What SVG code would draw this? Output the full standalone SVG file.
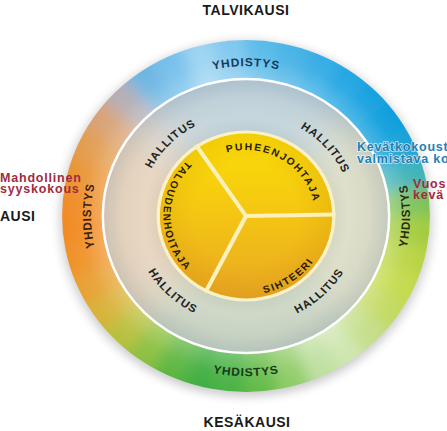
<svg xmlns="http://www.w3.org/2000/svg" width="447" height="431" viewBox="0 0 447 431">
<defs>
<style>
.lbl{font-family:"Liberation Sans",Arial,sans-serif;font-weight:700;}
.ring{font-size:11.5px;letter-spacing:0.8px;}
.hal{font-size:11px;letter-spacing:1px;fill:#1e2224;}
.role{font-size:10px;letter-spacing:1.6px;fill:#2a1e00;}
.season{font-size:14px;letter-spacing:0.5px;fill:#1a1a1a;}
.nred{font-size:12.5px;letter-spacing:0.8px;fill:#a32a40;}
.nblue{font-size:12.5px;letter-spacing:0.8px;fill:#1f80b4;stroke:#ffffff;stroke-width:1.6px;stroke-opacity:.7;paint-order:stroke;}
</style>
<filter id="blurC" x="-20%" y="-20%" width="140%" height="140%"><feGaussianBlur stdDeviation="7"/></filter>
<filter id="blurT" x="-30%" y="-30%" width="160%" height="160%"><feGaussianBlur stdDeviation="22"/></filter>
<filter id="shadow" x="-20%" y="-20%" width="140%" height="140%"><feGaussianBlur stdDeviation="5"/></filter>
<clipPath id="cOuter"><path clip-rule="evenodd" d="M-176 0A176 176 0 1 0 176 0A176 176 0 1 0 -176 0ZM-137 0A137 137 0 1 0 137 0A137 137 0 1 0 -137 0Z"/></clipPath>
<clipPath id="cMid"><path clip-rule="evenodd" d="M-137 0A137 137 0 1 0 137 0A137 137 0 1 0 -137 0ZM-85 0A85 85 0 1 0 85 0A85 85 0 1 0 -85 0Z"/></clipPath>
<radialGradient id="gOuterHi" gradientUnits="userSpaceOnUse" cx="0" cy="0" r="176">
<stop offset="0.77" stop-color="#fff" stop-opacity="0.28"/><stop offset="0.9" stop-color="#fff" stop-opacity="0.06"/><stop offset="1" stop-color="#fff" stop-opacity="0"/>
</radialGradient>
<radialGradient id="gMid" gradientUnits="userSpaceOnUse" cx="0" cy="0" r="137">
<stop offset="0.62" stop-color="#d6d8ce"/><stop offset="0.72" stop-color="#e8e7de"/><stop offset="0.86" stop-color="#dcddd6"/><stop offset="1" stop-color="#b3bcc0"/>
</radialGradient>
<linearGradient id="gYel" gradientUnits="userSpaceOnUse" x1="0" y1="-84" x2="0" y2="84">
<stop offset="0" stop-color="#fbe006"/><stop offset="0.5" stop-color="#f4c513"/><stop offset="1" stop-color="#e8a724"/>
</linearGradient>
<radialGradient id="gYelEdge" gradientUnits="userSpaceOnUse" cx="0" cy="0" r="84">
<stop offset="0.6" stop-color="#c07000" stop-opacity="0"/><stop offset="1" stop-color="#c07000" stop-opacity="0.16"/>
</radialGradient>
<path id="pYt" d="M-147.7 -26A150 150 0 0 1 147.7 -26"/>
<path id="pYb" d="M-157.6 27.8A160 160 0 0 0 157.6 27.8"/>
<path id="pYl" d="M-25.7 145.8A148 148 0 0 1 -25.7 -145.8"/>
<path id="pYr" d="M27.3 154.6A157 157 0 0 0 27.3 -154.6"/>
<path id="pH1" d="M-83.6 58.5A102 102 0 0 1 58.5 -83.6"/>
<path id="pH2" d="M-54.1 -86.5A102 102 0 0 1 80.4 62.8"/>
<path id="pH3" d="M-91.4 -59.4A109 109 0 0 0 65.6 87"/>
<path id="pH4" d="M-65.6 87A109 109 0 0 0 91.4 -59.4"/>
<path id="pPj" d="M-49.8 -43.3A66 66 0 0 1 61.6 23.7"/>
<path id="pTh" d="M-13.7 -77.8A79 79 0 0 0 -13.7 77.8"/>
<path id="pSh" d="M-56.8 54.9A79 79 0 0 0 72.2 -32.1"/>
</defs>

<g transform="translate(246 216) scale(1.045 1)">
<ellipse cx="0" cy="3" rx="178" ry="178" fill="#000" opacity=".2" filter="url(#shadow)"/>

<g id="ring-yhdistys">
<g clip-path="url(#cOuter)">
<g filter="url(#blurC)">
<polygon points="0,0 0,-190 33,-187.1" fill="#58bbe9"/>
<polygon points="0,0 33,-187.1 65,-178.5" fill="#46b3e6"/>
<polygon points="0,0 65,-178.5 95,-164.5" fill="#34ace5"/>
<polygon points="0,0 95,-164.5 122.1,-145.5" fill="#22a6e3"/>
<polygon points="0,0 122.1,-145.5 145.5,-122.1" fill="#12a0e0"/>
<polygon points="0,0 145.5,-122.1 164.5,-95" fill="#0c9edd"/>
<polygon points="0,0 164.5,-95 178.5,-65" fill="#14a2d6"/>
<polygon points="0,0 178.5,-65 187.1,-33" fill="#3cb2b8"/>
<polygon points="0,0 187.1,-33 190,0" fill="#7cc25c"/>
<polygon points="0,0 190,0 187.1,33" fill="#a2cc3e"/>
<polygon points="0,0 187.1,33 178.5,65" fill="#b8d442"/>
<polygon points="0,0 178.5,65 164.5,95" fill="#c4da4c"/>
<polygon points="0,0 164.5,95 145.5,122.1" fill="#c2da62"/>
<polygon points="0,0 145.5,122.1 122.1,145.5" fill="#c4de88"/>
<polygon points="0,0 122.1,145.5 95,164.5" fill="#cfe6b0"/>
<polygon points="0,0 95,164.5 65,178.5" fill="#bfe0a0"/>
<polygon points="0,0 65,178.5 33,187.1" fill="#90cc68"/>
<polygon points="0,0 33,187.1 0,190" fill="#66bc4a"/>
<polygon points="0,0 0,190 -33,187.1" fill="#48b244"/>
<polygon points="0,0 -33,187.1 -65,178.5" fill="#40ae40"/>
<polygon points="0,0 -65,178.5 -95,164.5" fill="#5cb640"/>
<polygon points="0,0 -95,164.5 -122.1,145.5" fill="#8cc040"/>
<polygon points="0,0 -122.1,145.5 -145.5,122.1" fill="#b8c03e"/>
<polygon points="0,0 -145.5,122.1 -164.5,95" fill="#d8b238"/>
<polygon points="0,0 -164.5,95 -178.5,65" fill="#e8a030"/>
<polygon points="0,0 -178.5,65 -187.1,33" fill="#f09226"/>
<polygon points="0,0 -187.1,33 -190,0" fill="#f28a20"/>
<polygon points="0,0 -190,0 -187.1,-33" fill="#f08c26"/>
<polygon points="0,0 -187.1,-33 -178.5,-65" fill="#ea9434"/>
<polygon points="0,0 -178.5,-65 -164.5,-95" fill="#e29c50"/>
<polygon points="0,0 -164.5,-95 -145.5,-122.1" fill="#d8a274"/>
<polygon points="0,0 -145.5,-122.1 -122.1,-145.5" fill="#b4aeb4"/>
<polygon points="0,0 -122.1,-145.5 -95,-164.5" fill="#6cb6e2"/>
<polygon points="0,0 -95,-164.5 -65,-178.5" fill="#74c0ec"/>
<polygon points="0,0 -65,-178.5 -33,-187.1" fill="#9cd4f2"/>
<polygon points="0,0 -33,-187.1 0,-190" fill="#80c8ee"/>
</g>
<circle r="176" fill="url(#gOuterHi)"/>
</g>
<text class="lbl ring" fill="#163a5e"><textPath href="#pYt" startOffset="50%" text-anchor="middle">YHDISTYS</textPath></text>
<text class="lbl ring" fill="#153a18"><textPath href="#pYb" startOffset="50%" text-anchor="middle">YHDISTYS</textPath></text>
<text class="lbl ring" fill="#3a2210"><textPath href="#pYl" startOffset="50%" text-anchor="middle">YHDISTYS</textPath></text>
<text class="lbl ring" fill="#2a2a10"><textPath href="#pYr" startOffset="50%" text-anchor="middle">YHDISTYS</textPath></text>
</g>

<g id="ring-hallitus">
<circle r="137" fill="url(#gMid)"/>
<g clip-path="url(#cMid)" opacity=".5">
<g filter="url(#blurT)">
<polygon points="0,0 -200,-200 200,-200" fill="#a4c6dc"/>
<polygon points="0,0 200,-200 200,200" fill="#d6d8b8"/>
<polygon points="0,0 200,200 -200,200" fill="#b6cab2"/>
<polygon points="0,0 -200,200 -200,-200" fill="#eac8a6"/>
</g>
</g>
<circle r="137" fill="none" stroke="#ffffff" stroke-width="2.4"/>
<text class="lbl hal"><textPath href="#pH1" startOffset="50%" text-anchor="middle">HALLITUS</textPath></text>
<text class="lbl hal"><textPath href="#pH2" startOffset="50%" text-anchor="middle">HALLITUS</textPath></text>
<text class="lbl hal"><textPath href="#pH3" startOffset="50%" text-anchor="middle">HALLITUS</textPath></text>
<text class="lbl hal"><textPath href="#pH4" startOffset="50%" text-anchor="middle">HALLITUS</textPath></text>
</g>

<g id="core-roles">
<circle r="84" fill="url(#gYel)"/>
<circle r="84" fill="url(#gYelEdge)"/>
<circle r="84" fill="none" stroke="#fbf1c6" stroke-width="3.2"/>
<g stroke="#fcf0bc" stroke-width="4" stroke-linecap="round">
<line x1="0" y1="0" x2="84" y2="-1.5"/>
<line x1="0" y1="0" x2="-38.1" y2="74.8"/>
<line x1="0" y1="0" x2="-47" y2="-69.6"/>
</g>
<g id="puheenjohtaja"><text class="lbl role"><textPath href="#pPj" startOffset="50%" text-anchor="middle">PUHEENJOHTAJA</textPath></text></g>
<g id="taloudenhoitaja"><text class="lbl role"><textPath href="#pTh" startOffset="50%" text-anchor="middle">TALOUDENHOITAJA</textPath></text></g>
<g id="sihteeri"><text class="lbl role"><textPath href="#pSh" startOffset="50%" text-anchor="middle">SIHTEERI</textPath></text></g>
</g>
</g>

<g id="connectors"/>

<g id="talvikausi"><text class="lbl season" x="246" y="14.5" text-anchor="middle">TALVIKAUSI</text></g>
<g id="kesakausi"><text class="lbl season" x="247" y="427" text-anchor="middle">KESÄKAUSI</text></g>
<g id="syyskausi"><text class="lbl season" x="0" y="221">AUSI</text></g>
<g id="note-syyskokous">
<text class="lbl nred" x="0" y="181.5">Mahdollinen</text>
<text class="lbl nred" x="0" y="192.5">syyskokous</text>
</g>
<g id="note-kevatkokous">
<text class="lbl nblue" x="357" y="151">Kevätkokoust</text>
<text class="lbl nblue" x="357" y="163">valmistava ko</text>
</g>
<g id="note-vuosikokous">
<text class="lbl nred" x="413" y="188">Vuos</text>
<text class="lbl nred" x="413" y="198.5">kevä</text>
</g>
</svg>
